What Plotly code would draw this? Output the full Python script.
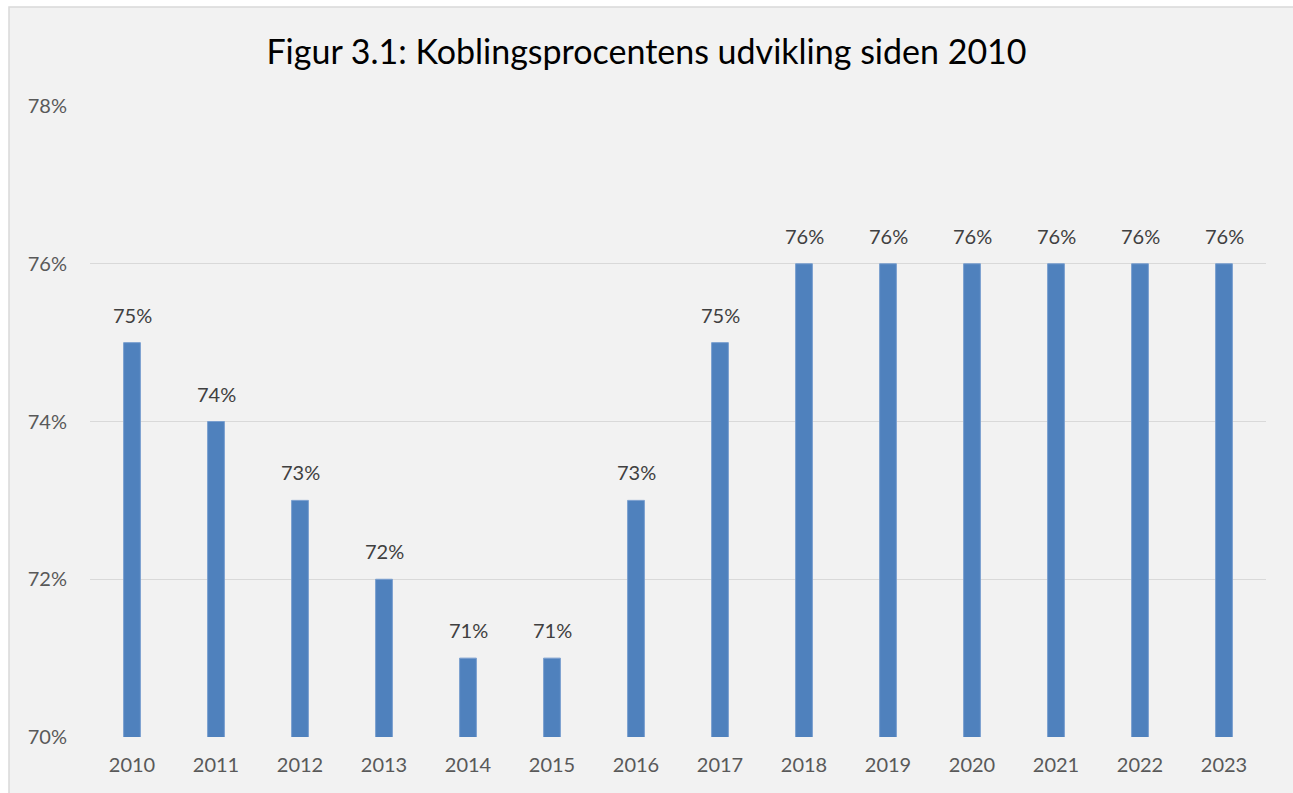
import plotly.graph_objects as go

years = ["2010", "2011", "2012", "2013", "2014", "2015", "2016", "2017",
         "2018", "2019", "2020", "2021", "2022", "2023"]
values = [75, 74, 73, 72, 71, 71, 73, 75, 76, 76, 76, 76, 76, 76]
y_ticks = [70, 72, 74, 76, 78]
y_tick_labels = ["70%", "72%", "74%", "76%", "78%"]
title_text = "Figur 3.1: Koblingsprocentens udvikling siden 2010"

W, H = 1293, 793
L, T = 90, 106
R = W - 1266
B = H - 737
pw, ph = W - L - R, H - T - B

def px_x(p):
    return (p - L) / pw

def px_y(p):
    return (H - B - p) / ph

FONT = "Lato"

fig = go.Figure()
fig.add_trace(go.Bar(
    x=years, y=values,
    marker=dict(color="#4f81bd", line=dict(color="#7a9fcf", width=1)),
    hoverinfo="skip",
))

# category axis: annotation x is the category's serial index
for i, v in enumerate(values):
    fig.add_annotation(x=i, y=v, text=f"{v}%", showarrow=False,
                       yanchor="bottom", yshift=14,
                       font=dict(family=FONT, size=20, color="#404040"))

fig.add_shape(type="rect", xref="paper", yref="paper",
              x0=px_x(9), x1=px_x(1320), y0=px_y(7), y1=px_y(820),
              fillcolor="#f2f2f2", line=dict(color="#d9d9d9", width=1.5),
              layer="below")

fig.update_layout(
    width=W, height=H,
    margin=dict(l=L, r=R, t=T, b=B),
    paper_bgcolor="white",
    plot_bgcolor="rgba(0,0,0,0)",
    bargap=0.8,
    showlegend=False,
    title=dict(text=title_text, x=0.5, xref="container", xanchor="center",
               y=1 - 52 / H, yanchor="middle",
               font=dict(family=FONT, size=34, color="#000000")),
    xaxis=dict(type="category", range=[-0.5, len(years) - 0.5],
               showgrid=False, showline=False, zeroline=False,
               tickfont=dict(family=FONT, size=20, color="#595959"),
               ticklabelstandoff=14, fixedrange=True),
    yaxis=dict(range=[70, 78], tickvals=y_ticks, ticktext=y_tick_labels,
               showgrid=True, gridcolor="#d9d9d9", gridwidth=1.3,
               zeroline=False, showline=False,
               tickfont=dict(family=FONT, size=20, color="#595959"),
               ticklabelstandoff=22, fixedrange=True),
)

fig.write_html(
    "out.html",
    config={"displayModeBar": False},
    post_script="document.body.style.margin='0';document.body.style.overflow='hidden';",
)
